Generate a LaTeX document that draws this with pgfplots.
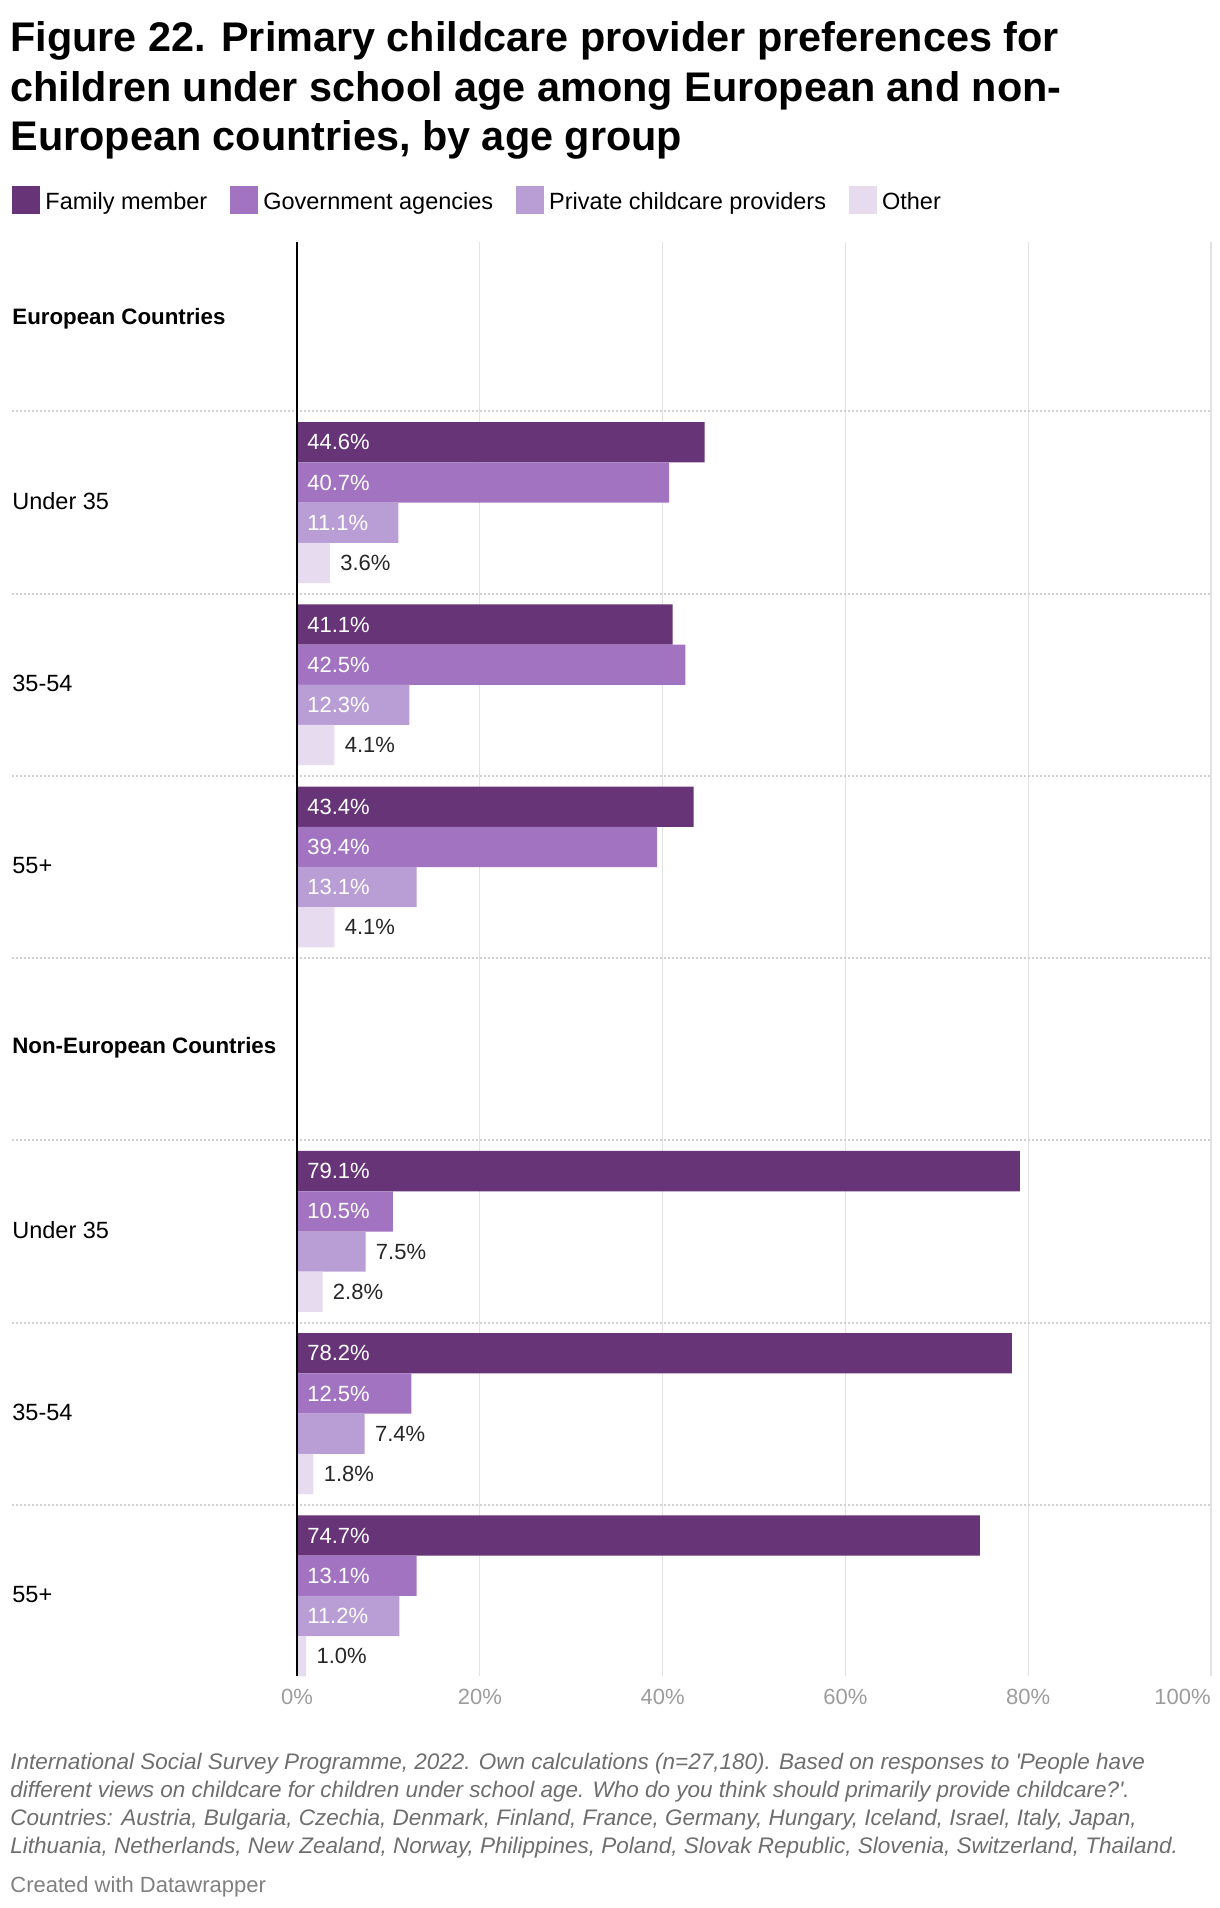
\documentclass[border=0pt]{standalone}
\usepackage{pgfplots}
\pgfplotsset{compat=1.18}
\usepackage{fontspec}
\setmainfont{Liberation Sans}

\definecolor{fam}{HTML}{663477}
\definecolor{gov}{HTML}{A273C0}
\definecolor{priv}{HTML}{B99ED6}
\definecolor{oth}{HTML}{E7DBEF}
\definecolor{ticktext}{HTML}{9C9C9C}
\definecolor{gridc}{HTML}{E2E2E2}
\definecolor{foot}{HTML}{6E6E6E}

\newcommand\lbl{\fontsize{11.75bp}{14bp}\selectfont}
\newcommand\num{\fontsize{11bp}{13bp}\selectfont}

\pgfplotsset{
  inlab/.style={
    nodes near coords={\pgfmathprintnumber[fixed,fixed zerofill,precision=1]{\pgfplotspointmeta}\%},
    point meta=x,
    visualization depends on={rawx \as \rawx},
    every node near coord/.append style={anchor=west, inner sep=0pt, text=white,
      font=\num, xshift={5bp-\rawx*4.57bp}}},
  outlab/.style={
    nodes near coords={\pgfmathprintnumber[fixed,fixed zerofill,precision=1]{\pgfplotspointmeta}\%},
    point meta=x,
    every node near coord/.append style={anchor=west, inner sep=0pt, text=black!85,
      font=\num, xshift=5bp}},
}

\begin{document}
\begin{tikzpicture}
\path[use as bounding box] (0,0) rectangle (610bp,-954bp);

% title
\begin{scope}[every node/.style={anchor=base west, inner sep=0pt, font=\fontsize{20.7bp}{24bp}\selectfont\bfseries}]
\node at (5bp,-25.5bp) {Figure 22. Primary childcare provider preferences for};
\node at (5bp,-50.5bp) {children under school age among European and non-};
\node at (5bp,-75bp) {European countries, by age group};
\end{scope}

\begin{axis}[
  at={(148.5bp,-121bp)}, anchor=north west,
  scale only axis, width=457bp, height=717bp,
  xmin=0, xmax=100, ymin=0.57, ymax=8.44, y dir=reverse,
  xbar, bar width=0.221,
  clip=false,
  /pgf/number format/assume math mode=true,
  axis line style={draw=none},
  major tick length=0pt,
  xtick={0,20,40,60,80},
  xticklabels={0\%,20\%,40\%,60\%,80\%},
  extra x ticks={100},
  extra x tick labels={100\%},
  extra x tick style={xticklabel style={anchor=base east}},
  xticklabel style={anchor=base, yshift=-14bp, inner sep=0pt, text=ticktext, font=\num},
  xmajorgrids, grid style={color=gridc, line width=0.6bp},
  ytick={1,2,3,4,5,6,7,8},
  yticklabels={{\fontsize{11.15bp}{13bp}\selectfont\bfseries European Countries},Under 35,35-54,55+,
    {\fontsize{11.15bp}{13bp}\selectfont\bfseries Non-European Countries},Under 35,35-54,55+},
  yticklabel style={anchor=west, inner sep=0pt, xshift=-142.5bp, yshift=0.8bp, font=\lbl, text=black},
  legend columns=4,
  legend image code/.code={\fill[#1] (0bp,-5.8bp) rectangle (14bp,8.2bp);},
  legend style={at={(axis description cs:-0.3118,1)}, anchor=west, yshift=21bp,
    draw=none, fill=none, inner sep=0pt, font=\lbl,
    nodes={inner sep=0pt},
    /tikz/every odd column/.append style={column sep=2.5bp},
    /tikz/every even column/.append style={column sep=11.5bp}},
  legend cell align=left,
]

\pgfplotsinvokeforeach{1.5,2.5,3.5,4.5,5.5,6.5,7.5}{
  \draw[color=black!18, line width=1bp, dash pattern=on 1bp off 1bp]
    (axis cs:-31.2,#1) -- (axis cs:100,#1);
}

\addplot[fill=fam, draw=none, bar shift=-0.331, inlab] coordinates {
  (44.6,2) (41.1,3) (43.4,4) (79.1,6) (78.2,7) (74.7,8)};
\addlegendentry{Family member}

\addplot[fill=gov, draw=none, bar shift=-0.110, inlab] coordinates {
  (40.7,2) (42.5,3) (39.4,4) (10.5,6) (12.5,7) (13.1,8)};
\addlegendentry{Government agencies}

\addplot[fill=priv, draw=none, bar shift=0.110, inlab] coordinates {
  (11.1,2) (12.3,3) (13.1,4) (11.2,8)};
\addlegendentry{Private childcare providers}

\addplot[fill=priv, draw=none, bar shift=0.110, outlab, forget plot] coordinates {
  (7.5,6) (7.4,7)};

\addplot[fill=oth, draw=none, bar shift=0.331, outlab] coordinates {
  (3.6,2) (4.1,3) (4.1,4) (2.8,6) (1.8,7) (1.0,8)};
\addlegendentry{Other}

\draw[black, line width=0.85bp] (axis cs:0,0.57) -- (axis cs:0,8.44);
\end{axis}

% footer
\begin{scope}[every node/.style={anchor=base west, inner sep=0pt, text=foot, font=\fontsize{11.25bp}{13bp}\selectfont\itshape}]
\node at (5bp,-884.5bp) {International Social Survey Programme, 2022. Own calculations (n=27,180). Based on responses to \textquotesingle People have};
\node at (5bp,-898.5bp) {different views on childcare for children under school age. Who do you think should primarily provide childcare?\textquotesingle.};
\node at (5bp,-912.5bp) {Countries: Austria, Bulgaria, Czechia, Denmark, Finland, France, Germany, Hungary, Iceland, Israel, Italy, Japan,};
\node at (5bp,-926.5bp) {Lithuania, Netherlands, New Zealand, Norway, Philippines, Poland, Slovak Republic, Slovenia, Switzerland, Thailand.};
\end{scope}
\node[anchor=base west, inner sep=0pt, text=black!50, font=\fontsize{11bp}{13bp}\selectfont] at (5bp,-946bp) {Created with Datawrapper};
\end{tikzpicture}
\end{document}
